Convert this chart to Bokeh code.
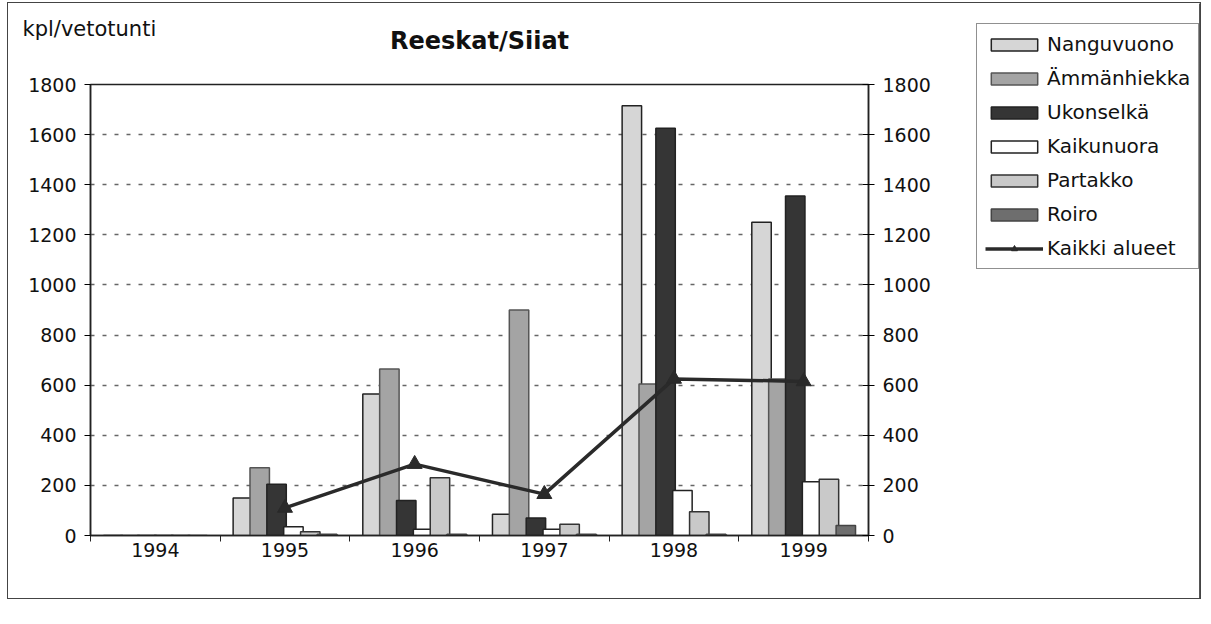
import numpy as np
from bokeh.plotting import figure
from bokeh.layouts import row, column
from bokeh.models import (ColumnDataSource, FixedTicker, LinearAxis, Range1d,
                          Legend, LegendItem, Label)
from bokeh.embed import file_html
from bokeh.resources import INLINE

# ---- data ----
years = ["1994", "1995", "1996", "1997", "1998", "1999"]
series_names = ["Nanguvuono", "Ämmänhiekka", "Ukonselkä", "Kaikunuora", "Partakko", "Roiro"]
nanguvuono = [0, 150, 565, 85, 1715, 1250]
ammanhiekka = [0, 270, 665, 900, 605, 625]
ukonselka = [0, 205, 140, 70, 1625, 1355]
kaikunuora = [0, 35, 25, 25, 180, 215]
partakko = [0, 15, 230, 45, 95, 225]
roiro = [0, 5, 5, 5, 5, 40]
kaikki_alueet = [float("nan"), 110, 285, 165, 625, 615]
line_name = "Kaikki alueet"
title_text = "Reeskat/Siiat"
unit_text = "kpl/vetotunti"
y_ticks = [0, 200, 400, 600, 800, 1000, 1200, 1400, 1600, 1800]

series_values = [nanguvuono, ammanhiekka, ukonselka, kaikunuora, partakko, roiro]
fills = ["#d6d6d6", "#a4a4a4", "#353535", "#ffffff", "#c9c9c9", "#6e6e6e"]
outlines = ["#222222", "#555555", "#222222", "#222222", "#333333", "#444444"]
LINE_COLOR = "#2a2a2a"
FONT = "DejaVu Sans"
TXT = "#111111"


def blank(width, height, xr, yr):
    f = figure(width=width, height=height, output_backend="svg",
               toolbar_location=None, x_axis_location=None, y_axis_location=None,
               x_range=xr, y_range=yr, min_border=0)
    f.outline_line_color = None
    f.grid.visible = False
    return f


# ---- header (unit text + title) ----
top = blank(967, 66, Range1d(0, 967), Range1d(66, 0))
top.add_layout(Label(x=14, y=25, text=unit_text, text_font=FONT,
                     text_font_size="21px", text_color=TXT,
                     text_baseline="middle", text_align="left"))
top.add_layout(Label(x=471, y=37, text=title_text, text_font=FONT,
                     text_font_size="24px", text_font_style="bold",
                     text_color=TXT, text_baseline="middle", text_align="center"))

# ---- main chart ----
p = figure(width=967, height=529, output_backend="svg", toolbar_location=None,
           title=None, x_range=Range1d(0, 6), y_range=Range1d(0, 1800),
           min_border_left=82, min_border_right=107, min_border_top=15,
           min_border_bottom=63)
p.outline_line_color = "#222222"
p.outline_line_width = 1.5
p.xgrid.visible = False
p.ygrid.grid_line_color = "#666666"
p.ygrid.grid_line_dash = "4 8"
p.ygrid.grid_line_width = 1.5
p.extra_y_ranges = {"right": Range1d(0, 1800)}

centers = np.arange(len(years)) + 0.5
step = 0.13
bw = 0.15
for k, vals in enumerate(series_values):
    src = ColumnDataSource(dict(x=centers + (k - 2.5) * step, top=vals))
    p.vbar(x="x", top="top", width=bw, source=src, fill_color=fills[k],
           line_color=outlines[k], line_width=1.5)

lsrc = ColumnDataSource(dict(x=centers, y=kaikki_alueet))
p.line("x", "y", source=lsrc, line_color=LINE_COLOR, line_width=3.5,
       y_range_name="right")
p.scatter("x", "y", source=lsrc, marker="triangle", size=15,
          fill_color=LINE_COLOR, line_color=LINE_COLOR, y_range_name="right")

ax = p.yaxis[0]
ax.ticker = FixedTicker(ticks=y_ticks)
ry = LinearAxis(y_range_name="right", ticker=FixedTicker(ticks=y_ticks))
p.add_layout(ry, "right")
for a in (ax, ry):
    a.major_label_text_font = FONT
    a.major_label_text_font_size = "19px"
    a.major_label_text_color = TXT
    a.major_tick_out = 6
    a.minor_tick_line_color = None
    a.axis_line_color = "#222222"
    a.axis_line_width = 1.5
    a.major_label_standoff = 8
ax.major_tick_in = 0
ry.major_tick_in = 6

xa = p.xaxis[0]
xa.ticker = FixedTicker(ticks=list(centers), minor_ticks=list(range(len(years) + 1)))
xa.major_label_overrides = {float(c): y for c, y in zip(centers, years)}
xa.major_label_text_font = FONT
xa.major_label_text_font_size = "19px"
xa.major_label_text_color = TXT
xa.major_tick_line_color = None
xa.minor_tick_out = 6
xa.minor_tick_in = 0
xa.minor_tick_line_color = "#222222"
xa.axis_line_color = "#222222"
xa.axis_line_width = 1.5
xa.major_label_standoff = 1

# ---- legend panel (legend proxies sit outside the visible range) ----
lg = blank(225, 595, Range1d(0, 1), Range1d(0, 1))
items = []
for k, name in enumerate(series_names):
    r = lg.vbar(x=[10], top=[1], width=0.1, fill_color=fills[k],
                line_color=outlines[k], line_width=1.5)
    items.append(LegendItem(label=name, renderers=[r]))
dl = lg.line(x=[10, 11], y=[5, 5], line_color=LINE_COLOR, line_width=3.5)
dm = lg.scatter(x=[10], y=[5], marker="triangle", size=15,
                fill_color=LINE_COLOR, line_color=LINE_COLOR)
items.append(LegendItem(label=line_name, renderers=[dl, dm]))
legend = Legend(items=items, location=(1, 329), label_text_font=FONT,
                label_text_font_size="20px", label_text_color=TXT,
                glyph_width=58, glyph_height=15, label_height=24, spacing=10,
                label_standoff=4, padding=8, margin=0,
                border_line_color="#222222", border_line_width=1.5,
                background_fill_color="white", background_fill_alpha=1)
lg.add_layout(legend, "center")

layout = row(column(row(top, spacing=0), p, spacing=0), lg, spacing=0)
layout.styles = {"border": "1px solid #444", "margin": "2px 0 0 7px"}

open("out.html", "w").write(file_html(layout, INLINE))
